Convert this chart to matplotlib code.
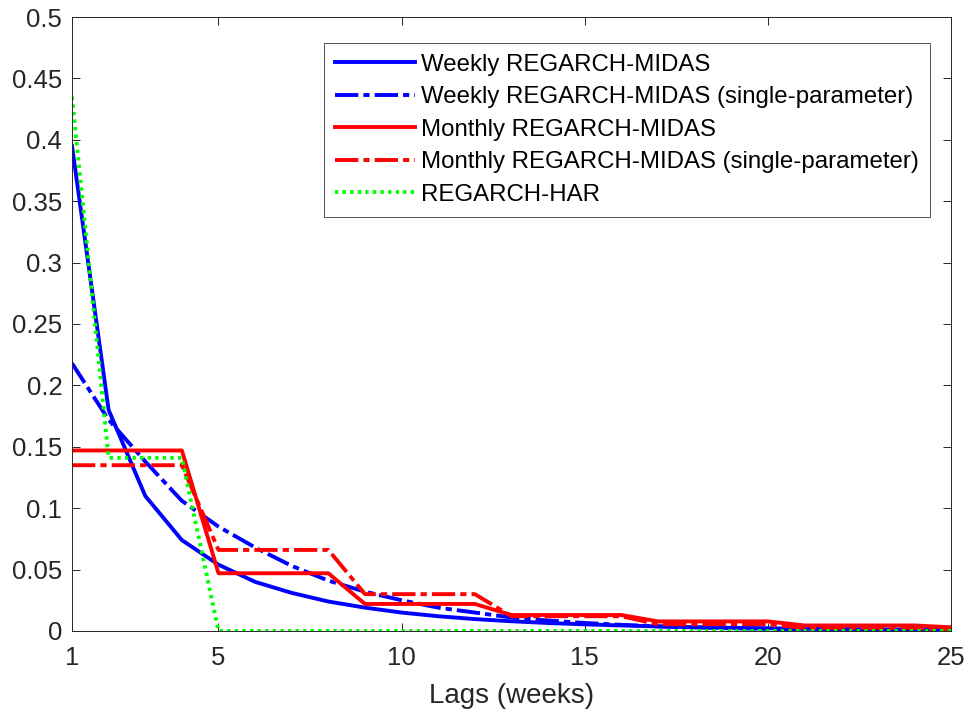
import numpy as np
import matplotlib.pyplot as plt

plt.rcParams['font.family'] = ['Liberation Sans', 'DejaVu Sans']

# lags in weeks
lags = np.arange(1, 26)

# weight curves
weekly_midas = [0.395, 0.180, 0.110, 0.074, 0.054, 0.040, 0.031, 0.024, 0.019, 0.015,
                0.012, 0.0097, 0.0079, 0.0065, 0.0054, 0.0045, 0.0037, 0.0031, 0.0026, 0.0022,
                0.0018, 0.0015, 0.0013, 0.0011, 0.0009]
weekly_single = [0.218, 0.172, 0.138, 0.106, 0.085, 0.068, 0.053, 0.041, 0.032, 0.025,
                 0.019, 0.015, 0.011, 0.0085, 0.0065, 0.005, 0.0038, 0.0029, 0.0022, 0.0017,
                 0.0013, 0.001, 0.0008, 0.0006, 0.0005]
monthly_midas = [0.147, 0.147, 0.147, 0.147, 0.047, 0.047, 0.047, 0.047, 0.022, 0.022,
                 0.022, 0.022, 0.013, 0.013, 0.013, 0.013, 0.0078, 0.0078, 0.0078, 0.0078,
                 0.0045, 0.0045, 0.0045, 0.0045, 0.003]
monthly_single = [0.135, 0.135, 0.135, 0.135, 0.066, 0.066, 0.066, 0.066, 0.030, 0.030,
                  0.030, 0.030, 0.012, 0.012, 0.012, 0.012, 0.0055, 0.0055, 0.0055, 0.0055,
                  0.0025, 0.0025, 0.0025, 0.0025, 0.001]
har = [0.435, 0.141, 0.141, 0.141] + [0.0] * 21

labels = ["Weekly REGARCH-MIDAS",
          "Weekly REGARCH-MIDAS (single-parameter)",
          "Monthly REGARCH-MIDAS",
          "Monthly REGARCH-MIDAS (single-parameter)",
          "REGARCH-HAR"]

fig = plt.figure(figsize=(9.69, 7.18), dpi=100)
ax = fig.add_axes([0.0743, 0.1212, 0.9071, 0.8551])

lw = 2.8
dashdot = (6, 1.3, 1.6, 1.3)
ax.plot(lags, weekly_midas, color=(0, 0, 1), lw=lw, label=labels[0])
ax.plot(lags, weekly_single, color=(0, 0, 1), lw=lw, dashes=dashdot, label=labels[1])
ax.plot(lags, monthly_midas, color=(1, 0, 0), lw=lw, label=labels[2])
ax.plot(lags, monthly_single, color=(1, 0, 0), lw=lw, dashes=dashdot, label=labels[3])
ax.plot(lags, har, color=(0, 1, 0), lw=lw, dashes=(0.85, 1.1), label=labels[4])

ax.set_xlim(1, 25)
ax.set_ylim(0, 0.5)
ax.set_xticks([1, 5, 10, 15, 20, 25])
yt = np.arange(0, 0.501, 0.05)
ax.set_yticks(yt)
ax.set_yticklabels([f"{v:g}" for v in np.round(yt, 2)])
ax.tick_params(direction='in', top=True, right=True, labelsize=18.5, length=6,
               width=0.7, colors='#262626', labelcolor='#262626')
ax.tick_params(axis='x', pad=11)
ax.tick_params(axis='y', pad=7)
for s in ax.spines.values():
    s.set_linewidth(0.7)
    s.set_color('#262626')
ax.set_xlabel("Lags (weeks)", fontsize=20, color='#262626', labelpad=9)

leg = ax.legend(loc='upper right', bbox_to_anchor=(0.976, 0.958), fontsize=17.3,
                handlelength=3.35, frameon=True, fancybox=False, borderpad=0.45,
                borderaxespad=0, labelspacing=0.44, handletextpad=0.25)
leg.get_frame().set_edgecolor('#262626')
leg.get_frame().set_linewidth(0.7)

fig.savefig("out.png", dpi=100)
